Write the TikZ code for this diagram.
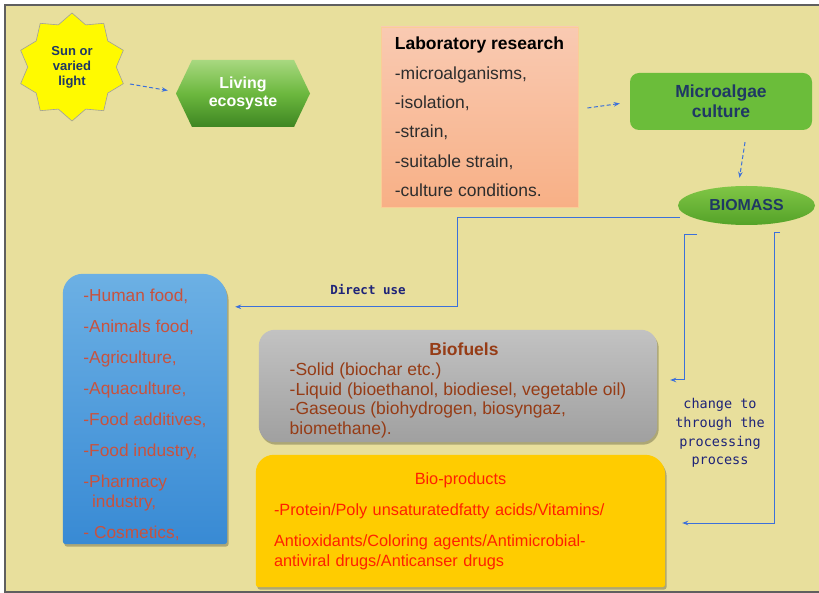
\documentclass[tikz,border=0pt]{standalone}
\usepackage{fontspec}
\setmainfont{Liberation Sans}
\newfontfamily\pixfont{DejaVu Sans Mono}
\usetikzlibrary{shapes.geometric,shapes.symbols,arrows.meta,calc,backgrounds,shadows}

\definecolor{bg}{RGB}{232,223,156}
\definecolor{framegray}{RGB}{95,95,95}
\definecolor{sunyellow}{RGB}{255,250,0}
\definecolor{navy}{RGB}{31,56,100}
\definecolor{labelnavy}{RGB}{30,35,120}
\definecolor{hextop}{RGB}{168,216,128}
\definecolor{hexmid}{RGB}{108,184,62}
\definecolor{hexbot}{RGB}{62,134,34}
\definecolor{labtop}{RGB}{249,202,178}
\definecolor{labbot}{RGB}{248,176,134}
\definecolor{labedge}{RGB}{250,205,150}
\definecolor{labtext}{RGB}{45,45,45}
\definecolor{microgreen}{RGB}{107,189,58}
\definecolor{biotop}{RGB}{128,198,70}
\definecolor{biobot}{RGB}{84,162,40}
\definecolor{foodtop}{RGB}{108,176,228}
\definecolor{foodbot}{RGB}{56,138,212}
\definecolor{foodtext}{RGB}{200,82,62}
\definecolor{fueltop}{RGB}{194,194,194}
\definecolor{fuelbot}{RGB}{160,160,160}
\definecolor{fueltext}{RGB}{150,60,22}
\definecolor{prodfill}{RGB}{255,204,0}
\definecolor{prodtext}{RGB}{255,32,0}
\definecolor{linkblue}{RGB}{60,112,218}

\tikzset{
  link/.style={draw=linkblue, line width=1pt},
  tipped/.style={-{Stealth[length=6pt,width=4.5pt]}},
  dashlink/.style={link, dash pattern=on 4pt off 2.5pt, tipped},
  panelshadow/.style={drop shadow={shadow xshift=1.5pt, shadow yshift=-2.5pt, opacity=0.25, fill=black}},
}

\begin{document}
\begin{tikzpicture}[x=1pt,y=-1pt]
\useasboundingbox (0,0) rectangle (819,593);

% ---------- upper chain ----------
\node[star, star points=10, star point ratio=1.22, minimum size=108pt, inner sep=0pt,
      fill=sunyellow, draw=gray!75, line width=0.6pt, align=center, text=navy,
      font=\bfseries\fontsize{13}{15}\selectfont] (sun) at (72,67) {Sun or\\varied\\light};

\node[signal, signal to=west and east, signal pointer angle=129,
      minimum width=134pt, minimum height=67pt, inner sep=0pt,
      top color=hextop, bottom color=hexbot, middle color=hexmid, align=center, text=white,
      font=\bfseries\fontsize{16}{18}\selectfont] (eco) at (243,93.5) {Living\\ecosyste};

\node[rectangle, minimum width=197pt, minimum height=180pt, inner sep=0pt,
      top color=labtop, bottom color=labbot, draw=labedge, line width=0.8pt,
      align=left, text=labtext, font=\fontsize{17.5}{29.4}\selectfont] (lab) at (479.5,117)
      {\textcolor{black}{\bfseries Laboratory research}\\-microalganisms,\\-isolation,\\-strain,\\-suitable strain,\\-culture conditions.};

\node[rectangle, rounded corners=9pt, fill=microgreen, minimum width=182pt, minimum height=57pt,
      inner sep=0pt, align=center, text=navy, font=\bfseries\fontsize{17.5}{20}\selectfont]
      (micro) at (721,101.5) {Microalgae\\culture};

\node[ellipse, minimum width=137pt, minimum height=39pt, inner sep=0pt,
      top color=biotop, bottom color=biobot, text=navy,
      font=\bfseries\fontsize{15.9}{18}\selectfont] (bio) at (746.5,205.5) {BIOMASS};

% ---------- lower panels (text; panels drawn behind) ----------
\node[minimum width=164pt, minimum height=270pt, inner sep=0pt, align=left, text=foodtext,
      font=\fontsize{17.3}{19.5}\selectfont] (food) at (145,409)
      {\rule{0pt}{24.5pt}-Human food,\\[11.5pt]-Animals food,\\[11.5pt]-Agriculture,\\[11.5pt]-Aquaculture,\\[11.5pt]-Food additives,\\[11.5pt]-Food industry,\\[11.5pt]-Pharmacy\\\hspace*{0.5em}industry,\\[11.5pt]- Cosmetics,};

\node[minimum width=398pt, minimum height=112pt, inner sep=0pt, text=fueltext,
      font=\fontsize{17.5}{19.7}\selectfont] (fuel) at (458,386)
      {\begin{tabular}{@{}l@{}}\multicolumn{1}{@{}c@{}}{\rule{0pt}{24pt}\hspace*{12pt}\bfseries Biofuels}\\
       -Solid (biochar etc.)\\
       -Liquid (bioethanol, biodiesel, vegetable oil)\\
       -Gaseous (biohydrogen, biosyngaz,\\
       biomethane).\end{tabular}};

\node[minimum width=409pt, minimum height=132pt, inner xsep=18pt, inner ysep=0pt, text width=373pt,
      align=left, text=prodtext, font=\fontsize{16.3}{20}\selectfont] (prod) at (460.5,521)
      {\makebox[373pt]{Bio-products}\\[11pt]-Protein/Poly unsaturatedfatty acids/Vitamins/\\[11pt]Antioxidants/Coloring agents/Antimicrobial-\\antiviral drugs/Anticanser drugs};

% ---------- labels ----------
\node[text=labelnavy, font=\pixfont\bfseries\fontsize{12.5}{14}\selectfont] (dulabel) at (368,290) {Direct use};
\node[text=labelnavy, align=center, font=\pixfont\fontsize{13.5}{18.7}\selectfont] (chlabel) at (720,433)
      {change to\\through the\\processing\\process};

% ---------- connectors ----------
\draw[dashlink] ($(sun.center)+(58,17)$) -- ($(eco.west)+(-8,-3)$);
\draw[dashlink] ($(lab.east)+(9,-9)$) -- ($(micro.west)+(-10,2)$);
\draw[dashlink] ($(micro.south)+(24,12)$) -- ($(bio.north)+(-7,-8)$);

\coordinate (du) at (457,218);
\draw[link, tipped] ($(bio.west)+(2,12.5)$) -- (du) |- ($(food.north east)+(8,33)$);

\coordinate (fa) at (697,235);
\coordinate (fb) at (684,235);
\draw[link, tipped] (fa) -- (fb) |- ($(fuel.east)+(13,-6)$);

\coordinate (pa) at (780,233);
\coordinate (pb) at (774,233);
\draw[link, tipped] (pa) -- (pb) |- ($(prod.east)+(17,2)$);

% ---------- background: frame and panels ----------
\begin{scope}[on background layer]
  \fill[white] (0,0) rectangle (819,593);
  \fill[bg] (5,5) rectangle (819,592);
  \draw[framegray, line width=1.3pt] (819,5) -- (5,5) -- (5,592) -- (819,592);

  % application panel: large top rounding, nearly square bottom
  \shade[panelshadow, top color=foodtop, bottom color=foodbot]
    ($(food.south west)+(0,-3)$) -- ($(food.north west)+(0,20)$)
    arc[start angle=180, end angle=270, radius=20]
    -- ($(food.north east)+(-25,0)$)
    arc[start angle=270, end angle=360, radius=25]
    -- ($(food.south east)+(0,-3)$)
    arc[start angle=0, end angle=90, radius=3]
    -- ($(food.south west)+(3,0)$)
    arc[start angle=90, end angle=180, radius=3] -- cycle;

  % biofuel panel
  \shade[panelshadow, top color=fueltop, bottom color=fuelbot, rounded corners=16pt]
    (fuel.south west) rectangle (fuel.north east);

  % bio-products panel
  \fill[panelshadow, prodfill]
    ($(prod.south west)+(0,-3)$) -- ($(prod.north west)+(0,18)$)
    arc[start angle=180, end angle=270, radius=18]
    -- ($(prod.north east)+(-20,0)$)
    arc[start angle=270, end angle=360, radius=20]
    -- ($(prod.south east)+(0,-3)$)
    arc[start angle=0, end angle=90, radius=3]
    -- ($(prod.south west)+(3,0)$)
    arc[start angle=90, end angle=180, radius=3] -- cycle;
\end{scope}
\end{tikzpicture}
\end{document}
